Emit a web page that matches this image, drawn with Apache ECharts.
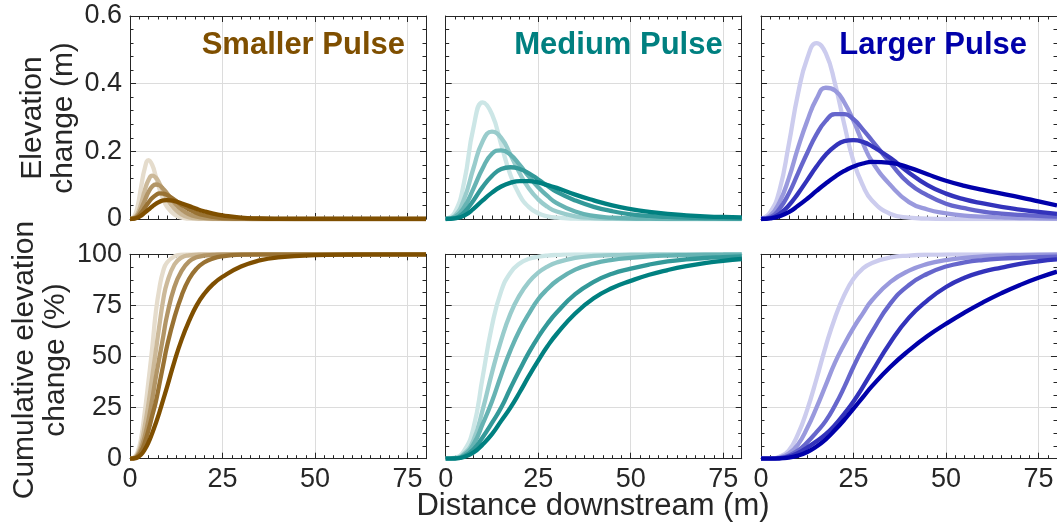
<!DOCTYPE html>
<html><head><meta charset="utf-8">
<script src="https://cdn.jsdelivr.net/npm/echarts@6/dist/echarts.min.js"></script>
<style>html,body{margin:0;padding:0;background:#fff}#c{width:1057px;height:529px}</style>
</head><body><div id="c"></div>
<script>
// ---------- DATA ----------
const panelTitles = ['Smaller Pulse', 'Medium Pulse', 'Larger Pulse'];
const xTickLabels = ['0', '25', '50', '75'];
const elevTickLabels = ['0', '0.2', '0.4', '0.6'];
const cumTickLabels = ['0', '25', '50', '75', '100'];

// distance downstream (m) sample positions
const xSmall = [0,1,2,3,4,5,6,7,8,9,10,12,14,16,18,20,22.5,25,30,35,40,50,60,70,80];
const xMedium = [0,2.5,5,7.5,10,12.5,15,17.5,20,22.5,25,27.5,30,35,40,45,50,55,60,65,70,75,80];
const xLarge = [0,2.5,5,7.5,10,12.5,15,17.5,20,22.5,25,27.5,30,35,40,45,50,55,60,65,70,75,80];

// elevation change (m), five curves per pulse (earliest -> latest)
const smallElevation = [
  [0,0.005,0.035,0.095,0.15,0.174,0.16,0.125,0.088,0.058,0.036,0.013,0.004,0.001,0,0,0,0,0,0,0,0,0,0,0],
  [0,0.003,0.015,0.045,0.085,0.115,0.128,0.122,0.104,0.082,0.06,0.03,0.013,0.005,0.002,0.001,0,0,0,0,0,0,0,0,0],
  [0,0.002,0.01,0.03,0.055,0.08,0.096,0.102,0.099,0.089,0.076,0.048,0.027,0.014,0.007,0.003,0.0015,0.0005,0,0,0,0,0,0,0],
  [0,0.001,0.006,0.018,0.033,0.049,0.062,0.071,0.076,0.075,0.071,0.057,0.041,0.028,0.018,0.011,0.006,0.003,0.001,0,0,0,0,0,0],
  [0,0.001,0.004,0.01,0.019,0.028,0.037,0.045,0.051,0.055,0.056,0.053,0.046,0.038,0.03,0.023,0.016,0.011,0.004,0.0015,0.0005,0,0,0,0]
];
const mediumElevation = [
  [0,0.02,0.11,0.27,0.345,0.31,0.22,0.13,0.07,0.035,0.017,0.008,0.004,0.001,0,0,0,0,0,0,0,0,0],
  [0,0.01,0.06,0.15,0.23,0.258,0.24,0.19,0.135,0.09,0.058,0.036,0.022,0.008,0.003,0.001,0,0,0,0,0,0,0],
  [0,0.006,0.035,0.09,0.15,0.193,0.203,0.19,0.16,0.125,0.094,0.068,0.047,0.022,0.009,0.004,0.002,0.001,0,0,0,0,0],
  [0,0.003,0.02,0.055,0.095,0.127,0.148,0.153,0.148,0.135,0.117,0.098,0.08,0.055,0.036,0.023,0.014,0.009,0.006,0.004,0.003,0.002,0.001],
  [0,0.002,0.01,0.03,0.055,0.078,0.096,0.107,0.112,0.112,0.108,0.1,0.092,0.072,0.055,0.04,0.029,0.021,0.015,0.011,0.008,0.006,0.005]
];
const largeElevation = [
  [0,0.02,0.085,0.22,0.37,0.475,0.52,0.49,0.4,0.28,0.17,0.1,0.055,0.015,0.004,0.001,0,0,0,0,0,0,0],
  [0,0.01,0.05,0.12,0.21,0.29,0.355,0.388,0.38,0.345,0.29,0.225,0.17,0.1,0.05,0.028,0.017,0.01,0.007,0.005,0.003,0.002,0.001],
  [0,0.005,0.03,0.075,0.135,0.195,0.25,0.29,0.31,0.31,0.295,0.265,0.232,0.165,0.105,0.07,0.045,0.032,0.022,0.016,0.012,0.009,0.007],
  [0,0.003,0.015,0.04,0.075,0.115,0.155,0.19,0.215,0.23,0.233,0.228,0.215,0.18,0.137,0.1,0.075,0.058,0.046,0.036,0.028,0.021,0.015],
  [0,0.002,0.008,0.02,0.039,0.06,0.083,0.105,0.125,0.142,0.155,0.164,0.169,0.166,0.152,0.132,0.113,0.098,0.086,0.075,0.064,0.052,0.04]
];

// cumulative elevation change (%)
const smallCumulative = [
  [0,0.5,3,10,23,38,54,72,84,92,96,99,99.8,100,100,100,100,100,100,100,100,100,100,100,100],
  [0,0.3,2,7,16,27,40,53,66,78,86,95,98.5,99.5,99.8,100,100,100,100,100,100,100,100,100,100],
  [0,0.2,1.5,5,11,19,29,40,50,60,70,84,92,96.5,98.5,99.3,99.7,100,100,100,100,100,100,100,100],
  [0,0.1,1,3.5,8,14,21,28,37,46,55,69,80,88,93,96,98,99,99.8,100,100,100,100,100,100],
  [0,0.1,0.6,2,4.5,8,12.5,17.5,23,29,35,47.5,58.5,67.5,75,80.5,85.5,89,94,97,98.5,99.6,99.9,100,100]
];
const mediumCumulative = [
  [0,0.5,4,15,40,65,82,91,95.5,97.8,98.8,99.4,99.7,100,100,100,100,100,100,100,100,100,100],
  [0,0.3,2.5,9,24,42,58,71,80,86.5,91,94,96,98.2,99.2,99.6,99.8,99.9,100,100,100,100,100],
  [0,0.2,2,7,17,28,41,53,63,71,78,83,87,92.5,95.5,97.3,98.3,99,99.4,99.6,99.8,99.9,100],
  [0,0.1,1.2,4.5,10.5,17.5,25,34.5,43.5,52,59.5,66,71.5,80.5,86.5,90.5,93,95,96.5,97.5,98.2,98.6,99],
  [0,0.1,0.8,3,7,12,18.5,25,32.5,40.5,48,55,61,71,78.5,83.5,87,90,92.3,94.2,95.7,96.8,97.7]
];
const largeCumulative = [
  [0,0.1,1,4,12,24,39,55,69,80,88,93,95.8,98.5,99.4,99.8,99.9,100,100,100,100,100,100],
  [0,0.05,0.6,2.5,7,15,25,36,47,56,64,71,77.5,86.5,92,95.3,97.2,98.3,99,99.4,99.6,99.8,99.9],
  [0,0,0.3,1.5,4,8,13,18.5,26,35,45,54,62,76,85,90.5,94,96,97.2,97.9,98.3,98.6,98.8],
  [0,0,0.2,1,2.8,5.5,8.5,12,16.5,22,28,35,42.5,57,69,77.5,84,88.5,91.5,93.5,95.3,96.6,97.5],
  [0,0,0.1,0.5,1.5,3.3,6,9.5,14,19,24.5,30,35.5,45,53,60,66,71.5,76.5,81,85,88.5,91.5]
];

// ---------- STYLE ----------
const baseColors = [[127,79,0],[0,128,128],[0,0,170]];
const shadeFractions = [0.2,0.4,0.6,0.8,1.0];
function shade(rgb, t){ return 'rgb(' + rgb.map(v => Math.round(255 - t*(255 - v))).join(',') + ')'; }
const FONT = '"Liberation Sans", Arial, Helvetica, sans-serif';
const INK = '#262626';
const GRIDC = '#dcdcdc';
const colLeft = [130, 445.7, 761], panelW = 296;
const rowTop = [16, 254.3], rowH = [203, 204.4];

const panels = [
  {row:0,col:0,xs:xSmall,ys:smallElevation},
  {row:0,col:1,xs:xMedium,ys:mediumElevation},
  {row:0,col:2,xs:xLarge,ys:largeElevation},
  {row:1,col:0,xs:xSmall,ys:smallCumulative},
  {row:1,col:1,xs:xMedium,ys:mediumCumulative},
  {row:1,col:2,xs:xLarge,ys:largeCumulative}
];

const grids=[], xAxes=[], yAxes=[], series=[];
panels.forEach((p,g) => {
  grids.push({left: colLeft[p.col], top: rowTop[p.row], width: panelW, height: rowH[p.row]});
  const tick = {show:true, inside:true, length:6, lineStyle:{color:INK, width:1}};
  const line = {show:true, onZero:false, lineStyle:{color:INK, width:1}};
  const xCommon = {gridIndex:g, type:'value', min:0, max:80, interval:25,
    axisLine: line, axisTick: tick,
    minorTick:{show:true, splitNumber:10, length:3.5, lineStyle:{color:INK, width:1}}};
  xAxes.push(Object.assign({}, xCommon, {position:'bottom',
    splitLine:{show:true, lineStyle:{color:GRIDC, width:1}},
    axisLabel:{show:p.row===1, showMaxLabel:false, margin:7, fontSize:27, fontFamily:FONT, color:INK,
      formatter: v => { const i = xTickLabels.indexOf(String(v)); return i>=0 ? xTickLabels[i] : ''; }}}));
  xAxes.push(Object.assign({}, xCommon, {position:'top', splitLine:{show:false}, axisLabel:{show:false}}));
  const top = p.row===0;
  const yCommon = {gridIndex:g, type:'value', min:0, max: top?0.6:100, interval: top?0.2:25,
    axisLine: line, axisTick: tick,
    minorTick:{show:true, splitNumber: top?5:4, length:3.5, lineStyle:{color:INK, width:1}}};
  const labels = top ? elevTickLabels : cumTickLabels;
  yAxes.push(Object.assign({}, yCommon, {position:'left',
    splitLine:{show:true, lineStyle:{color:GRIDC, width:1}},
    axisLabel:{show:p.col===0, margin:8, fontSize:27, fontFamily:FONT, color:INK,
      formatter: (v, idx) => labels[idx] !== undefined ? labels[idx] : ''}}));
  yAxes.push(Object.assign({}, yCommon, {position:'right', splitLine:{show:false}, axisLabel:{show:false}}));
  p.ys.forEach((vals, k) => {
    series.push({type:'line', xAxisIndex:2*g, yAxisIndex:2*g, showSymbol:false, smooth:0.5,
      silent:true, animation:false,
      lineStyle:{width:4.3, color: shade(baseColors[p.col], shadeFractions[k])},
      data: p.xs.map((x,i) => [x, vals[i]])});
  });
});

const titleRight = [405, 722.7, 1027];
const graphics = [];
panelTitles.forEach((t,c) => graphics.push({type:'text', x:titleRight[c], y:45, z:100,
  style:{text:t, fill: shade(baseColors[c],1), font:'bold 31px ' + FONT, textAlign:'right', textVerticalAlign:'middle'}}));
graphics.push({type:'text', x:593, y:506, style:{text:'Distance downstream (m)', fill:INK, font:'31px '+FONT, textAlign:'center', textVerticalAlign:'middle'}});
graphics.push({type:'text', x:48, y:118, rotation:Math.PI/2, style:{text:'Elevation\nchange (m)', fill:INK, font:'30px '+FONT, lineHeight:31, textAlign:'center', textVerticalAlign:'middle'}});
graphics.push({type:'text', x:40, y:360, rotation:Math.PI/2, style:{text:'Cumulative elevation\nchange (%)', fill:INK, font:'30px '+FONT, lineHeight:31, textAlign:'center', textVerticalAlign:'middle'}});

const chart = echarts.init(document.getElementById('c'), null, {renderer:'canvas'});
chart.setOption({animation:false, backgroundColor:'#fff', grid:grids, xAxis:xAxes, yAxis:yAxes, series:series, graphic:graphics});
</script></body></html>
